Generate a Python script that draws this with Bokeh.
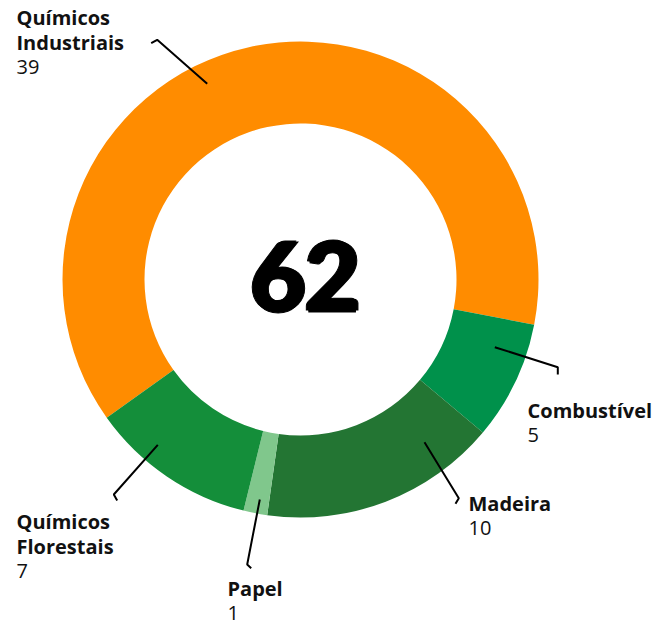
import math
from bokeh.plotting import figure
from bokeh.models import Range1d, ColumnDataSource
from bokeh.core.properties import value
from bokeh.embed import file_html
from bokeh.resources import INLINE

# ---- data ----
categories = ["Químicos Industriais", "Combustível", "Madeira", "Papel", "Químicos Florestais"]
values = [39, 5, 10, 1, 7]
colors = ["#FF8C00", "#00914B", "#237533", "#80C78C", "#148E3A"]

# ---- layout (screen pixel coords of the reference) ----
W, H = 656, 625
def sx(x): return x
def sy(y): return H - y
BASE_FIX = 0.37  # renderer places alphabetic baseline lower by ~0.37em

CENTER = (300, 279)
R_OUT, R_IN = 238, 156
START_DEG = 215.5   # clockwise from here

label_pos = {  # name x, first baseline y
    "Químicos Industriais": (16, 24),
    "Combustível": (527, 417),
    "Madeira": (468, 510),
    "Papel": (227, 595),
    "Químicos Florestais": (16, 528),
}
leaders = {
    "Químicos Industriais": [(206.7, 83.3), (156.7, 39.3), (150.7, 42.7)],
    "Combustível": [(494.3, 346.7), (557.3, 366.7), (557.3, 374)],
    "Madeira": [(424, 441.7), (458.3, 497.7), (455, 503.3)],
    "Papel": [(259.3, 499), (246.7, 564), (250.7, 567.7)],
    "Químicos Florestais": [(157.3, 444.3), (113.3, 494), (116.7, 500)],
}
LINE_H = 25
LABEL_SIZE = 20
TOTAL_SIZE = 94
HEAVY = 2.5  # px offset used to fake a black weight

p = figure(width=W, height=H, output_backend="svg", toolbar_location=None,
           x_range=Range1d(0, W), y_range=Range1d(0, H), min_border=0)
p.axis.visible = False
p.grid.visible = False
p.outline_line_color = None
p.background_fill_color = "white"
p.border_fill_color = "white"

total = sum(values)
starts, ends = [], []
a = math.radians(START_DEG)
for v in values:
    sweep = 2 * math.pi * v / total
    ends.append(a)
    starts.append(a - sweep)
    a -= sweep

src = ColumnDataSource(dict(x=[sx(CENTER[0])] * len(values), y=[sy(CENTER[1])] * len(values),
                            start=starts, end=ends, color=colors))
p.annular_wedge(x="x", y="y", inner_radius=R_IN, outer_radius=R_OUT,
                start_angle="start", end_angle="end", fill_color="color",
                line_color=None, source=src)

# leader lines
xs, ys = [], []
for c in categories:
    pts = leaders[c]
    xs.append([sx(px) for px, py in pts])
    ys.append([sy(py) for px, py in pts])
p.multi_line(xs=xs, ys=ys, line_color="black", line_width=2)

# labels
fix = BASE_FIX * LABEL_SIZE
nx, ny, nt, vx, vy, vt = [], [], [], [], [], []
for c, v in zip(categories, values):
    x0, y0 = label_pos[c]
    lines = c.split(" ")
    for i, ln in enumerate(lines):
        nx.append(sx(x0)); ny.append(sy(y0 + i * LINE_H - fix)); nt.append(ln)
    vx.append(sx(x0)); vy.append(sy(y0 + len(lines) * LINE_H - fix)); vt.append(str(v))

p.text(x=nx, y=ny, text=nt, text_font=value("Open Sans"), text_font_style="bold",
       text_font_size=f"{LABEL_SIZE}px", text_baseline="alphabetic", text_align="left",
       text_color="#111111")
p.text(x=vx, y=vy, text=vt, text_font=value("Open Sans"), text_font_style="normal",
       text_font_size=f"{LABEL_SIZE}px", text_baseline="alphabetic", text_align="left",
       text_color="#111111")

# center total (heavy weight faked with a few offset copies)
cx, cy = 304.7, 310.7 - BASE_FIX * TOTAL_SIZE
tx, ty = [], []
for dx, dy in [(-HEAVY, 0), (HEAVY, 0), (0, -HEAVY * 0.6), (0, HEAVY * 0.6), (0, 0)]:
    tx.append(sx(cx + dx)); ty.append(sy(cy + dy))
p.text(x=tx, y=ty, text=[str(total)] * len(tx),
       text_font=value("Lato"), text_font_style="bold", text_font_size=f"{TOTAL_SIZE}px",
       text_baseline="alphabetic", text_align="center", text_color="black",
       text_outline_color="black")

open("out.html", "w").write(file_html(p, INLINE))
